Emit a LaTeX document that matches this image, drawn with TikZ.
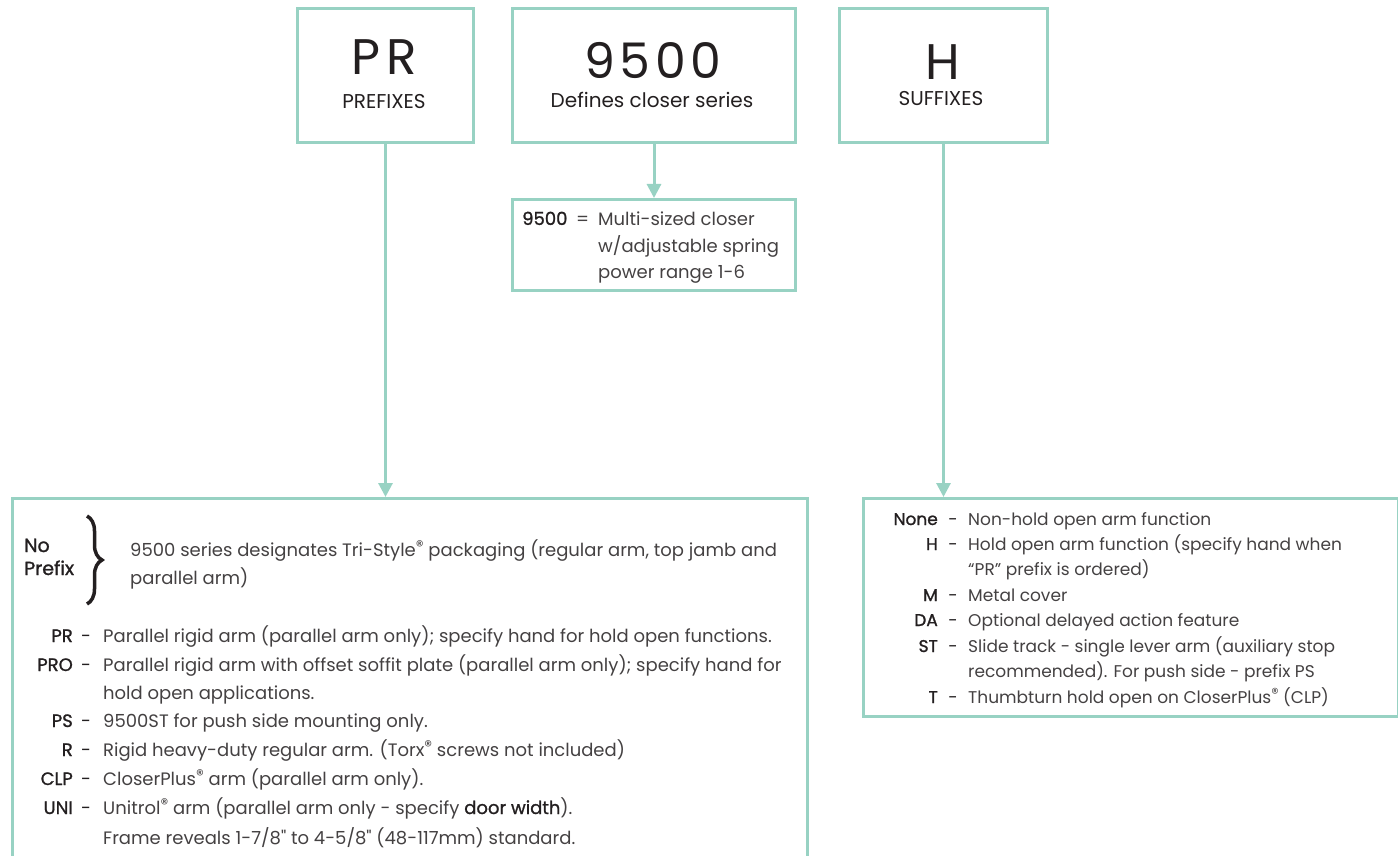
\documentclass[tikz,border=0pt]{standalone}
\usepackage{fontspec}
\setmainfont{Poppins}
\newfontface\semib{Poppins}[FakeBold=1.2]
\usepackage{tikz}
\usetikzlibrary{positioning, arrows.meta, decorations.pathreplacing}
\definecolor{mint}{RGB}{152,210,195}
\definecolor{ink}{RGB}{35,31,32}
\newcommand{\regmark}{\raisebox{0.45ex}{\scalebox{0.85}{®}}}

\begin{document}
\begin{tikzpicture}[x=1pt, y=-1pt]
\tikzstyle{every node}+=[inner sep=0pt, text=ink]
\tikzstyle{frame}=[draw=mint, line width=3pt, anchor=north west]
\tikzstyle{feed}=[draw=mint, line width=3pt, -{Triangle[width=14pt,length=14pt]}]
\tikzstyle{big}=[font=\fontsize{50}{50}\selectfont, anchor=base]
\tikzstyle{sub}=[font=\fontsize{20}{24}\selectfont, anchor=base]
\tikzstyle{key}=[font=\fontsize{18}{22}\selectfont\semib, anchor=base east]
\tikzstyle{dsh}=[font=\fontsize{18}{22}\selectfont, anchor=base]
\tikzstyle{txt}=[font=\fontsize{18}{22}\selectfont, anchor=base west, text=ink!85]
\tikzstyle{rkey}=[key, font=\fontsize{17}{22}\selectfont\semib]
\tikzstyle{rdsh}=[dsh, font=\fontsize{17}{22}\selectfont]
\tikzstyle{rtxt}=[txt, font=\fontsize{17}{22}\selectfont]
\useasboundingbox (0,0) rectangle (1398,856);
% boxes
\node[frame, minimum width=176pt, minimum height=134pt] (prbox) at (296,7) {};
\node[frame, minimum width=283pt, minimum height=134pt] (seriesbox) at (511,7) {};
\node[frame, minimum width=208pt, minimum height=134pt] (hbox) at (838,7) {};
\node[frame, minimum width=283pt, minimum height=91pt] (notebox) at (511,198) {};
\node[frame, minimum width=795pt, minimum height=420pt] (prefixbox) at (11,497) {};
\node[frame, minimum width=535pt, minimum height=218pt] (suffixbox) at (862,497) {};
% arrows
\draw[feed] (prbox.south) -- (prbox.south |- prefixbox.north);
\draw[feed] (seriesbox.south) -- (notebox.north);
\draw[feed] (hbox.south) -- (hbox.south |- suffixbox.north);
% headings
\node[big] (prbig) at (384,75) {P\kern6pt R};
\node[sub] (prsub) at (384,109) {PREFIXES};
\node[big, font=\fontsize{49}{49}\selectfont] (seriesbig) at (653,79) {9\kern4.5pt 5\kern4.5pt 0\kern4.5pt 0};
\node[sub] (seriessub) at (652,108) {Defines closer series};
\node[big] (hbig) at (943,80) {H};
\node[sub] (hsub) at (941,106) {SUFFIXES};
% series note
\node[key, anchor=base west] (notekey) at (522,225) {9500};
\node[txt] (noteeq) at (576,225) {=};
\node[txt] (note1) at (598,225) {Multi-sized closer};
\node[txt] (note2) at (598,252) {w/adjustable spring};
\node[txt] (note3) at (598,278) {power range 1-6};
% prefixes
\node[key, anchor=base west, font=\fontsize{19}{22}\selectfont\semib] (nokey) at (24,552) {No};
\node[key, anchor=base west, font=\fontsize{19}{22}\selectfont\semib] (prefixkey) at (24,575) {Prefix};
\draw[ink, line width=3.5pt, decorate, decoration={brace, amplitude=15pt}] (87,516) -- (87,604);
\node[txt] (no1) at (130,556) {9500 series designates Tri-Style\regmark{} packaging (regular arm, top jamb and};
\node[txt] (no2) at (130,584) {parallel arm)};
\node[key] (prk) at (73,642) {PR};
\node[dsh] (prd) at (86,642) {-};
\node[txt] (prt) at (103,642) {Parallel rigid arm (parallel arm only); specify hand for hold open functions.};
\node[key] (prok) at (73,671) {PRO};
\node[dsh] (prod) at (86,671) {-};
\node[txt] (prot) at (103,671) {Parallel rigid arm with offset soffit plate (parallel arm only); specify hand for};
\node[txt] (prot2) at (103,699) {hold open applications.};
\node[key] (psk) at (73,727) {PS};
\node[dsh] (psd) at (86,727) {-};
\node[txt] (pst) at (103,727) {9500ST for push side mounting only.};
\node[key] (rk) at (73,756) {R};
\node[dsh] (rd) at (86,756) {-};
\node[txt] (rt) at (103,756) {Rigid heavy-duty regular arm. (Torx\regmark{} screws not included)};
\node[key] (clpk) at (73,785) {CLP};
\node[dsh] (clpd) at (86,785) {-};
\node[txt] (clpt) at (103,785) {CloserPlus\regmark{} arm (parallel arm only).};
\node[key] (unik) at (73,814) {UNI};
\node[dsh] (unid) at (86,814) {-};
\node[txt] (unit) at (103,814) {Unitrol\regmark{} arm (parallel arm only - specify {\semib\color{ink} door width}).};
\node[txt] (unit2) at (103,844) {Frame reveals 1-7/8\textquotedbl{} to 4-5/8\textquotedbl{} (48-117mm) standard.};
% suffixes
\node[rkey] (nonek) at (938,525) {None};
\node[rdsh] (noned) at (953,525) {-};
\node[rtxt] (nonet) at (968,525) {Non-hold open arm function};
\node[rkey] (hk) at (938,550) {H};
\node[rdsh] (hd) at (953,550) {-};
\node[rtxt] (ht) at (968,550) {Hold open arm function (specify hand when};
\node[rtxt] (ht2) at (968,575) {“PR” prefix is ordered)};
\node[rkey] (mk) at (938,601) {M};
\node[rdsh] (md) at (953,601) {-};
\node[rtxt] (mt) at (968,601) {Metal cover};
\node[rkey] (dak) at (938,626) {DA};
\node[rdsh] (dad) at (953,626) {-};
\node[rtxt] (dat) at (968,626) {Optional delayed action feature};
\node[rkey] (stk) at (938,652) {ST};
\node[rdsh] (std) at (953,652) {-};
\node[rtxt] (stt) at (968,652) {Slide track - single lever arm (auxiliary stop};
\node[rtxt] (stt2) at (968,677) {recommended). For push side - prefix PS};
\node[rkey] (tk) at (938,703) {T};
\node[rdsh] (td) at (953,703) {-};
\node[rtxt] (tt) at (968,703) {Thumbturn hold open on CloserPlus\regmark{} (CLP)};
\end{tikzpicture}
\end{document}
